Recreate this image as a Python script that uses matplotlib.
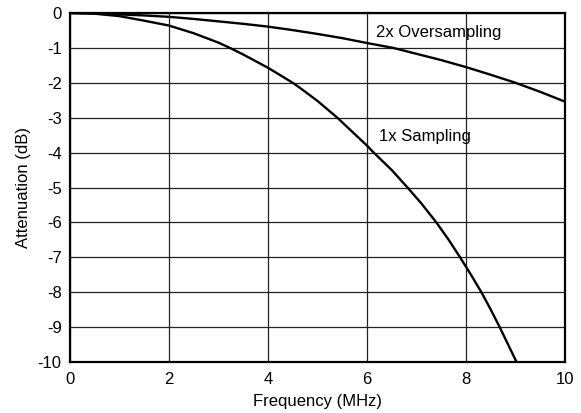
import matplotlib
matplotlib.use("Agg")
import matplotlib.pyplot as plt

plt.rcParams['font.family'] = ['Liberation Sans', 'DejaVu Sans']

# 1x sampling curve
freq_1x = [0.0, 0.5, 1.0, 1.5, 2.0, 2.5, 3.0, 3.23, 3.5, 4.0, 4.5, 4.65, 5.0, 5.4, 5.7, 6.0, 6.12, 6.5,
           6.83, 7.1, 7.4, 7.65, 7.88, 8.1, 8.31, 8.5, 8.68, 8.85, 9.02]
atten_1x = [0.0, -0.02, -0.09, -0.22, -0.36, -0.58, -0.85, -1.0, -1.19, -1.57, -2.0, -2.15, -2.52, -3.0, -3.4, -3.8, -3.98, -4.5,
            -5.02, -5.46, -6.0, -6.5, -7.0, -7.5, -8.0, -8.5, -9.0, -9.5, -10.0]

# 2x oversampling curve
freq_2x = [0.0, 0.5, 1.0, 1.5, 2.0, 2.5, 3.0, 3.5, 4.0, 4.5, 5.0, 5.5, 6.0, 6.53, 7.0, 7.5, 8.0, 8.5, 9.0, 9.5, 10.0]
atten_2x = [0.0, -0.01, -0.04, -0.07, -0.11, -0.17, -0.24, -0.31, -0.39, -0.49, -0.6, -0.72, -0.86, -1.0, -1.17, -1.35,
            -1.55, -1.77, -2.0, -2.26, -2.54]

x_ticks = [0, 2, 4, 6, 8, 10]
y_ticks = [0, -1, -2, -3, -4, -5, -6, -7, -8, -9, -10]

fig = plt.figure(figsize=(5.81, 4.13), dpi=100)
ax = fig.add_axes([0.1205, 0.1235, 0.852, 0.845])

ax.plot(freq_1x, atten_1x, color='black', lw=1.7, solid_joinstyle='round')
ax.plot(freq_2x, atten_2x, color='black', lw=1.7, solid_joinstyle='round')

ax.set_xlim(0, 10)
ax.set_ylim(-10, 0)
ax.set_xticks(x_ticks)
ax.set_yticks(y_ticks)
ax.set_yticklabels([str(v) for v in y_ticks])
ax.grid(True, color='#222222', lw=0.9)
ax.tick_params(length=0, labelsize=12)
ax.tick_params(axis='x', pad=7)
ax.tick_params(axis='y', pad=6)
for s in ax.spines.values():
    s.set_linewidth(1.6)

ax.set_xlabel('Frequency (MHz)', fontsize=12, labelpad=5)
ax.set_ylabel('Attenuation (dB)', fontsize=12, labelpad=5)

ax.text(6.18, -0.57, '2x Oversampling', fontsize=12, ha='left', va='center')
ax.text(6.24, -3.53, '1x Sampling', fontsize=12, ha='left', va='center')

fig.savefig('out.png', dpi=100)
